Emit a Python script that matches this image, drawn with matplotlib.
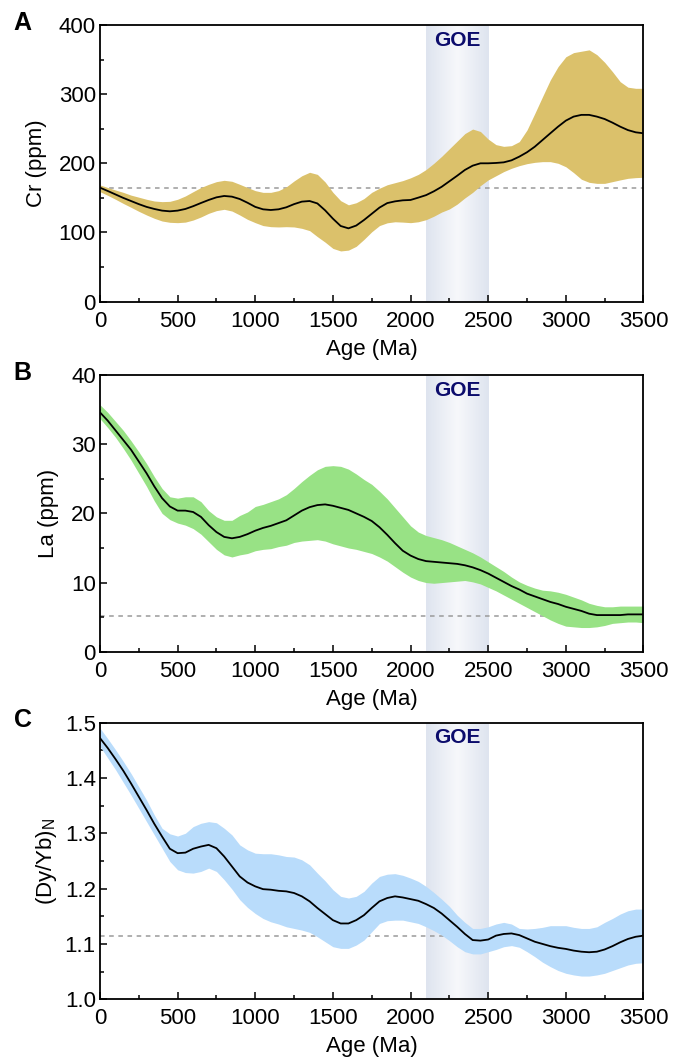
import numpy as np
import matplotlib
matplotlib.use("Agg")
import matplotlib.pyplot as plt
from matplotlib.colors import LinearSegmentedColormap
from matplotlib.ticker import MultipleLocator, FormatStrFormatter

plt.rcParams["font.family"] = ["Liberation Sans", "DejaVu Sans"]
plt.rcParams["mathtext.fontset"] = "custom"
plt.rcParams["mathtext.rm"] = "Liberation Sans"

# ages (Ma), every 50 Ma
age = list(range(0, 3550, 50))

# A: Cr (ppm) -- mean, upper, lower envelope
cr_mean = [164.8, 160, 155, 150, 145.5, 141, 137, 134, 131.6, 130.6,
           131.6, 134, 138, 142.6, 147, 150.8, 152.8, 151.8, 148.4, 143,
           137, 133.5, 132.5, 133.5, 136.4, 141, 144.6, 145.5, 142, 132,
           120, 109.4, 106, 110, 118, 127, 136, 142.5, 145, 146.5,
           147, 150.4, 154, 159.5, 166, 174, 182, 190.4, 196.6, 200,
           200, 200.5, 201.4, 204.3, 209.6, 216, 224, 233.7, 243.4, 253,
           261.7, 267.5, 270, 270, 267.5, 264, 258.8, 253, 248, 244.8,
           243.4]
cr_hi = [168.7, 165, 161.4, 158, 154, 151, 148, 145.5, 144.6, 145,
         148, 152.8, 159, 165, 169.6, 173.5, 175.4, 174, 169.6, 165,
         160.5, 158, 158, 160.5, 166, 174.5, 182, 187, 184, 173,
         158, 146, 140, 143, 149, 158, 164, 169, 172, 175,
         179, 184, 191, 200, 210, 221, 232, 243, 249.5, 246,
         235, 227, 224.5, 225.5, 231.3, 248.2, 272, 296.4, 320.5, 339.8,
         354, 360, 362, 364, 357, 346, 332.5, 318, 310, 308.4,
         308.4]
cr_lo = [159, 153.7, 148, 142, 136.4, 130.6, 125.3, 120.5, 116.6, 114.7,
         114.2, 115, 118, 122.4, 127.7, 131.6, 133.5, 131, 125.3, 119,
         114.2, 110, 108.4, 108, 108.4, 108, 106, 102.7, 94, 86,
         77, 73.3, 74.5, 80, 90, 101, 110, 114, 115.5, 115,
         114.2, 115.5, 118.5, 123.5, 129.5, 134, 141, 150, 158, 167.7,
         176, 182, 188, 192.8, 196.6, 199.5, 201.4, 202.4, 202.4, 200,
         195, 186.5, 177, 172.5, 171, 171, 173.5, 176, 178.3, 179.3,
         179.8]
cr_ref = 165

# B: La (ppm)
la_mean = [34.6, 33.4, 32, 30.6, 29.2, 27.5, 25.8, 23.9, 22.2, 21,
           20.4, 20.4, 20.2, 19.5, 18.3, 17.3, 16.6, 16.4, 16.6, 17,
           17.5, 17.9, 18.2, 18.6, 19, 19.7, 20.4, 20.9, 21.2, 21.3,
           21.1, 20.8, 20.5, 20, 19.5, 18.9, 18, 16.9, 15.7, 14.6,
           13.9, 13.4, 13.1, 13, 12.9, 12.8, 12.7, 12.5, 12.2, 11.8,
           11.3, 10.7, 10.1, 9.5, 9, 8.4, 8, 7.6, 7.2, 6.9,
           6.5, 6.2, 5.9, 5.5, 5.3, 5.3, 5.3, 5.3, 5.4, 5.4,
           5.4]
la_hi = [35.7, 34.6, 33.3, 32, 30.5, 28.9, 27.2, 25.3, 23.6, 22.4,
         22.2, 22.4, 22.4, 21.7, 20.4, 19.5, 19, 19, 19.7, 20.2,
         21, 21.3, 21.7, 22.1, 22.7, 23.6, 24.6, 25.5, 26.3, 26.8,
         26.9, 26.8, 26.4, 25.7, 24.9, 24.2, 23.2, 22.1, 20.8, 19.5,
         18.2, 17.3, 16.8, 16.5, 16.2, 15.8, 15.3, 14.8, 14.3, 13.7,
         13, 12.3, 11.6, 10.8, 10.1, 9.6, 9.2, 8.9, 8.8, 8.6,
         8.3, 7.9, 7.5, 7, 6.7, 6.5, 6.5, 6.6, 6.6, 6.6,
         6.6]
la_lo = [33.7, 32.4, 31, 29.4, 27.7, 25.8, 23.9, 21.8, 20, 19.1,
         18.6, 18.3, 17.8, 17, 15.9, 14.8, 14, 13.7, 14, 14.2,
         14.6, 14.8, 14.9, 15.2, 15.4, 15.8, 16, 16.1, 16.2, 16,
         15.6, 15.3, 15, 14.8, 14.5, 14.2, 13.7, 13.1, 12.3, 11.5,
         10.8, 10.3, 10, 9.9, 10, 10.1, 10.2, 10.3, 10.1, 9.8,
         9.3, 8.8, 8.2, 7.6, 7, 6.4, 5.8, 5.2, 4.6, 4.1,
         3.7, 3.6, 3.5, 3.5, 3.6, 3.8, 4.1, 4.2, 4.3, 4.3,
         4.2]
la_ref = 5.2

# C: (Dy/Yb)N
dy_mean = [1.472, 1.454, 1.434, 1.413, 1.390, 1.366, 1.342, 1.317, 1.294, 1.272,
           1.264, 1.265, 1.272, 1.276, 1.279, 1.273, 1.258, 1.240, 1.222, 1.211,
           1.204, 1.199, 1.198, 1.196, 1.195, 1.192, 1.186, 1.177, 1.165, 1.154,
           1.143, 1.137, 1.137, 1.143, 1.152, 1.165, 1.177, 1.183, 1.186, 1.184,
           1.181, 1.178, 1.172, 1.165, 1.155, 1.143, 1.131, 1.118, 1.107, 1.106,
           1.108, 1.115, 1.118, 1.119, 1.116, 1.110, 1.104, 1.100, 1.096, 1.093,
           1.091, 1.088, 1.086, 1.085, 1.086, 1.090, 1.096, 1.103, 1.109, 1.113,
           1.115]
dy_hi = [1.490, 1.471, 1.451, 1.430, 1.408, 1.384, 1.360, 1.333, 1.309, 1.299,
         1.295, 1.300, 1.312, 1.318, 1.321, 1.319, 1.309, 1.297, 1.279, 1.270,
         1.264, 1.263, 1.263, 1.261, 1.258, 1.257, 1.252, 1.243, 1.228, 1.214,
         1.198, 1.186, 1.183, 1.186, 1.195, 1.210, 1.222, 1.226, 1.227, 1.224,
         1.219, 1.213, 1.204, 1.193, 1.181, 1.168, 1.152, 1.139, 1.128, 1.128,
         1.131, 1.136, 1.139, 1.136, 1.128, 1.127, 1.128, 1.130, 1.133, 1.133,
         1.133, 1.130, 1.128, 1.128, 1.131, 1.139, 1.146, 1.154, 1.160, 1.163,
         1.163]
dy_lo = [1.457, 1.436, 1.415, 1.392, 1.369, 1.345, 1.321, 1.297, 1.273, 1.249,
         1.234, 1.229, 1.228, 1.231, 1.237, 1.231, 1.216, 1.199, 1.180, 1.166,
         1.155, 1.146, 1.140, 1.136, 1.131, 1.128, 1.125, 1.121, 1.113, 1.104,
         1.095, 1.092, 1.092, 1.098, 1.107, 1.122, 1.137, 1.142, 1.143, 1.143,
         1.140, 1.137, 1.131, 1.124, 1.116, 1.106, 1.095, 1.086, 1.082, 1.082,
         1.086, 1.090, 1.095, 1.097, 1.094, 1.086, 1.077, 1.067, 1.059, 1.052,
         1.047, 1.044, 1.042, 1.042, 1.044, 1.047, 1.052, 1.057, 1.062, 1.065,
         1.066]
dy_ref = 1.1145

goe_start, goe_end = 2100, 2500

panels = [
    ("A", "Cr (ppm)", cr_mean, cr_hi, cr_lo, cr_ref, (0, 400), 100, 50, "#dbc16b", 8.5),
    ("B", "La (ppm)", la_mean, la_hi, la_lo, la_ref, (0, 40), 10, 5, "#98e285", 8.5),
    ("C", r"(Dy/Yb)$_{\mathregular{N}}$", dy_mean, dy_hi, dy_lo, dy_ref, (1.0, 1.5), 0.1, 0.05, "#b9dcfb", 4),
]

band_cmap = LinearSegmentedColormap.from_list(
    "goe", ["#dee4ef", "#f7f8fb", "#dee4ef"])

fig = plt.figure(figsize=(6.88, 10.57), dpi=100)
bottoms = [0.7146, 0.3834, 0.0546]
for (letter, ylab, m, hi, lo, ref, ylim, maj, mnr, col, ypad), b in zip(panels, bottoms):
    ax = fig.add_axes([0.1453, b, 0.790, 0.2618])
    ax.set_xlim(0, 3500)
    ax.set_ylim(*ylim)
    # GOE band with horizontal gradient
    grad = np.linspace(0, 1, 256).reshape(1, -1)
    ax.imshow(grad, cmap=band_cmap, aspect="auto",
              extent=[goe_start, goe_end, ylim[0], ylim[1]], zorder=0)
    ax.axhline(ref, color="#9a9a9a", lw=1.1, ls=(0, (3, 3)), zorder=1)
    ax.fill_between(age, lo, hi, color=col, lw=0, zorder=2)
    ax.plot(age, m, color="black", lw=1.3, zorder=3)
    ax.text((goe_start + goe_end) / 2, ylim[1] - (ylim[1] - ylim[0]) * 0.055, "GOE",
            ha="center", va="center", fontsize=15, fontweight="bold",
            color="#0c0c6c", zorder=4)

    ax.xaxis.set_major_locator(MultipleLocator(500))
    ax.xaxis.set_minor_locator(MultipleLocator(250))
    ax.yaxis.set_major_locator(MultipleLocator(maj))
    ax.yaxis.set_minor_locator(MultipleLocator(mnr))
    ax.tick_params(which="both", direction="in", top=False, right=False,
                   labelsize=16, width=1.1, pad=3)
    ax.tick_params(axis="x", which="both", pad=6.5)
    ax.tick_params(which="major", length=5)
    ax.tick_params(which="minor", length=2.8)
    for s in ax.spines.values():
        s.set_linewidth(1.3)
    if letter == "C":
        ax.yaxis.set_major_formatter(FormatStrFormatter("%.1f"))
    ax.set_xlabel("Age (Ma)", fontsize=16, labelpad=5)
    ax.set_ylabel(ylab, fontsize=16, labelpad=ypad)
    fig.text(0.02, b + 0.2618 + 0.002, letter, fontsize=18, fontweight="bold",
             ha="left", va="center")

fig.savefig("out.png", dpi=100)
